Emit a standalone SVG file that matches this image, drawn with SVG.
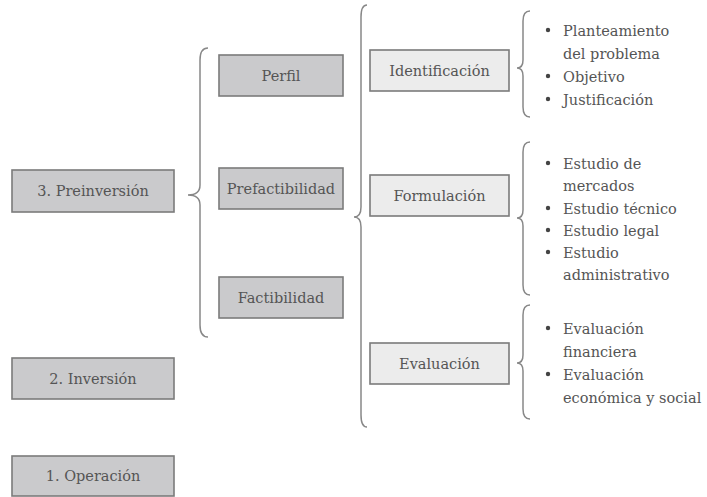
<svg xmlns="http://www.w3.org/2000/svg" width="707" height="497" viewBox="0 0 707 497">
<style>
.dark{fill:#cacacc;stroke:#7b7b7b;stroke-width:1.6}
.light{fill:#ececec;stroke:#7b7b7b;stroke-width:1.6}
.t{font-family:"DejaVu Serif","Liberation Serif",serif;font-size:14.5px;fill:#555}
.c{text-anchor:middle}
.br{fill:none;stroke:#888;stroke-width:1.5}
.dot{fill:#444}
</style>
<rect width="707" height="497" fill="#fff"/>
<g id="n-preinversion"><rect class="dark" x="12" y="170" width="162" height="42"/><text class="t c" x="93" y="196">3. Preinversión</text></g>
<g id="n-inversion"><rect class="dark" x="12" y="358" width="162" height="41"/><text class="t c" x="93" y="384">2. Inversión</text></g>
<g id="n-operacion"><rect class="dark" x="12" y="456" width="162" height="40"/><text class="t c" x="93" y="481">1. Operación</text></g>
<g id="n-perfil"><rect class="dark" x="219" y="55" width="124" height="41"/><text class="t c" x="281" y="81">Perfil</text></g>
<g id="n-prefact"><rect class="dark" x="219" y="168" width="124" height="41"/><text class="t c" x="281" y="194">Prefactibilidad</text></g>
<g id="n-fact"><rect class="dark" x="219" y="277" width="124" height="41"/><text class="t c" x="281" y="303">Factibilidad</text></g>
<g id="n-ident"><rect class="light" x="370" y="50" width="139" height="41"/><text class="t c" x="439.5" y="76">Identificación</text></g>
<g id="n-formul"><rect class="light" x="370" y="175" width="139" height="41"/><text class="t c" x="439.5" y="201">Formulación</text></g>
<g id="n-eval"><rect class="light" x="370" y="343" width="139" height="41"/><text class="t c" x="439.5" y="369">Evaluación</text></g>
<g id="connectors">
<path class="br" d="M208,48 Q200,48 200,60 L200,185 Q200,195 188,195 Q200,195 200,205 L200,325 Q200,337 208,337"/>
<path class="br" d="M367,5 Q361,5 361,17 L361,207 Q361,217 354,217 Q361,217 361,227 L361,415 Q361,427 367,427"/>
<path class="br" d="M530,11 Q523,11 523,21 L523,60 Q523,68 517,68 Q523,68 523,76 L523,107 Q523,117 530,117"/>
<path class="br" d="M530,142 Q523,142 523,152 L523,210 Q523,218 517,218 Q523,218 523,226 L523,285 Q523,295 530,295"/>
<path class="br" d="M530,305 Q523,305 523,315 L523,355 Q523,363 517,363 Q523,363 523,371 L523,409 Q523,419 530,419"/>
</g>
<g id="list-ident">
<circle class="dot" cx="548" cy="30" r="2.2"/><text class="t" x="563" y="36">Planteamiento</text>
<text class="t" x="563" y="59">del problema</text>
<circle class="dot" cx="548" cy="76" r="2.2"/><text class="t" x="563" y="82">Objetivo</text>
<circle class="dot" cx="548" cy="99" r="2.2"/><text class="t" x="563" y="105">Justificación</text>
</g>
<g id="list-formul">
<circle class="dot" cx="548" cy="163" r="2.2"/><text class="t" x="563" y="169">Estudio de</text>
<text class="t" x="563" y="191">mercados</text>
<circle class="dot" cx="548" cy="208" r="2.2"/><text class="t" x="563" y="214">Estudio técnico</text>
<circle class="dot" cx="548" cy="230" r="2.2"/><text class="t" x="563" y="236">Estudio legal</text>
<circle class="dot" cx="548" cy="252" r="2.2"/><text class="t" x="563" y="258">Estudio</text>
<text class="t" x="563" y="280">administrativo</text>
</g>
<g id="list-eval">
<circle class="dot" cx="548" cy="328" r="2.2"/><text class="t" x="563" y="334">Evaluación</text>
<text class="t" x="563" y="357">financiera</text>
<circle class="dot" cx="548" cy="374" r="2.2"/><text class="t" x="563" y="380">Evaluación</text>
<text class="t" x="563" y="403">económica y social</text>
</g>
</svg>
